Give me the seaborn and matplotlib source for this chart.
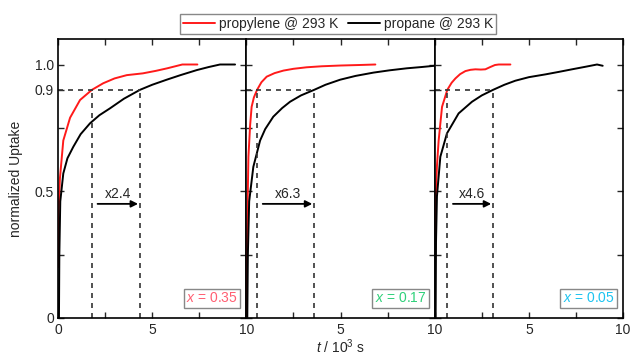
import numpy as np
import pandas as pd
import matplotlib
matplotlib.use("Agg")
import matplotlib.pyplot as plt
import seaborn as sns

# ---- uptake curves (t in 10^3 s, normalized uptake) ----
# x = 0.35
propylene_t_035 = [0.0, 0.02, 0.1, 0.28, 0.64, 1.17, 1.8, 2.4, 3.0, 3.65, 4.5, 5.2, 5.8, 6.6, 7.4]
propylene_u_035 = [0.20, 0.40, 0.55, 0.70, 0.79, 0.86, 0.90, 0.926, 0.945, 0.958, 0.965, 0.975, 0.985, 1.0, 1.0]
propane_t_035 = [0.05, 0.07, 0.12, 0.28, 0.5, 0.81, 1.2, 1.7, 2.2, 2.76, 3.5, 4.35, 5.0, 5.77, 6.5, 7.37, 8.0, 8.6, 9.4]
propane_u_035 = [0.0, 0.25, 0.46, 0.57, 0.63, 0.675, 0.725, 0.768, 0.80, 0.827, 0.865, 0.90, 0.92, 0.94, 0.958, 0.978, 0.99, 1.0, 1.0]

# x = 0.17
propylene_t_017 = [0.0, 0.03, 0.11, 0.2, 0.28, 0.4, 0.57, 0.8, 1.08, 1.5, 1.97, 2.5, 3.2, 4.0, 5.0, 6.0, 6.85]
propylene_u_017 = [0.0, 0.3, 0.636, 0.76, 0.833, 0.87, 0.90, 0.93, 0.952, 0.966, 0.976, 0.983, 0.989, 0.993, 0.996, 0.998, 1.0]
propane_t_017 = [0.05, 0.08, 0.15, 0.37, 0.73, 1.0, 1.43, 1.9, 2.32, 2.9, 3.6, 4.2, 4.98, 5.8, 6.75, 7.6, 8.52, 9.3, 10.0]
propane_u_017 = [0.0, 0.25, 0.46, 0.596, 0.70, 0.745, 0.794, 0.828, 0.853, 0.878, 0.90, 0.92, 0.94, 0.955, 0.968, 0.977, 0.985, 0.99, 0.995]

# x = 0.05
propylene_t_005 = [0.0, 0.04, 0.12, 0.21, 0.39, 0.67, 0.9, 1.1, 1.35, 1.63, 1.9, 2.16, 2.45, 2.69, 2.95, 3.2, 3.4, 4.02]
propylene_u_005 = [0.0, 0.45, 0.6, 0.70, 0.833, 0.90, 0.928, 0.945, 0.962, 0.974, 0.979, 0.981, 0.980, 0.981, 0.99, 0.998, 1.0, 1.0]
propane_t_005 = [0.05, 0.07, 0.12, 0.3, 0.65, 1.27, 1.98, 2.5, 3.1, 3.7, 4.28, 5.0, 5.88, 6.6, 7.29, 8.0, 8.62, 8.92]
propane_u_005 = [0.0, 0.3, 0.48, 0.636, 0.728, 0.807, 0.853, 0.878, 0.90, 0.92, 0.936, 0.95, 0.961, 0.971, 0.981, 0.991, 1.0, 0.995]

# time to reach 90 % uptake (10^3 s)
t90_propylene = [1.8, 0.57, 0.67]
t90_propane = [4.35, 3.6, 3.1]

compositions = [0.35, 0.17, 0.05]
composition_colors = ["#ff5f72", "#2fd07a", "#1cc3f0"]

series_names = ["propylene @ 293 K", "propane @ 293 K"]
series_colors = ["#ff1a1a", "#000000"]

y_ticks = [0, 0.25, 0.5, 0.75, 0.9, 1.0]
y_ticklabels = ["0", "", "0.5", "", "0.9", "1.0"]
x_ticks = [0, 2.5, 5, 7.5, 10]

panels = [
    (propylene_t_035, propylene_u_035, propane_t_035, propane_u_035),
    (propylene_t_017, propylene_u_017, propane_t_017, propane_u_017),
    (propylene_t_005, propylene_u_005, propane_t_005, propane_u_005),
]

sns.set_style("ticks")
plt.rcParams["font.family"] = ["Liberation Sans", "DejaVu Sans"]
plt.rcParams["mathtext.fontset"] = "custom"
plt.rcParams["mathtext.rm"] = "Liberation Sans"
plt.rcParams["mathtext.it"] = "Liberation Sans:italic"
plt.rcParams["font.size"] = 10

fig, axes = plt.subplots(1, 3, sharey=True, figsize=(6.32, 3.56), dpi=100)
fig.subplots_adjust(left=0.0918, right=0.9858, bottom=0.107, top=0.890, wspace=0)

palette = dict(zip(series_names, series_colors))

for i, ax in enumerate(axes):
    ty, uy, tp, up = panels[i]
    df = pd.concat([
        pd.DataFrame({"t": ty, "u": uy, "gas": series_names[0]}),
        pd.DataFrame({"t": tp, "u": up, "gas": series_names[1]}),
    ], ignore_index=True)
    sns.lineplot(data=df, x="t", y="u", hue="gas", palette=palette, sort=False,
                 estimator=None, units="gas", lw=1.4, ax=ax, legend=(i == 0))

    # 90 % guide lines
    dash = dict(color="#333333", lw=1.2, ls=(0, (3, 3)))
    ax.plot([0, t90_propane[i]], [0.9, 0.9], **dash)
    ax.plot([t90_propylene[i], t90_propylene[i]], [0, 0.9], **dash)
    ax.plot([t90_propane[i], t90_propane[i]], [0, 0.9], **dash)

    # ratio arrow
    a0 = t90_propylene[i] + 0.3
    a1 = t90_propane[i] - 0.1
    ax.annotate("", xy=(a1, 0.45), xytext=(a0, 0.45),
                arrowprops=dict(arrowstyle="-|>", color="black", lw=1.3,
                                mutation_scale=10, shrinkA=0, shrinkB=0))
    ratio = t90_propane[i] / t90_propylene[i]
    ax.text((a0 + a1) / 2, 0.49, f"x{ratio:.1f}", ha="center", va="center", fontsize=10)

    # composition box
    ax.text(0.955, 0.045, f"$x$ = {compositions[i]:.2f}", transform=ax.transAxes,
            ha="right", va="bottom", fontsize=10, color=composition_colors[i],
            bbox=dict(boxstyle="square,pad=0.18", fc="white", ec="#888888", lw=1.0))

    ax.set_xlim(0, 10)
    ax.set_ylim(0, 1.1)
    ax.set_xticks(x_ticks)
    if i == 0:
        ax.set_xticklabels(["0", "", "5", "", "10"])
    else:
        ax.set_xticklabels(["", "", "5", "", "10"])
    ax.set_yticks(y_ticks)
    ax.set_yticklabels(y_ticklabels)
    ax.tick_params(direction="in", top=True, right=True, length=4.5, width=1.0,
                   labelsize=10, pad=3)
    ax.tick_params(axis="x", pad=4)
    for s in ax.spines.values():
        s.set_linewidth(1.2)
        s.set_color("black")
    ax.set_xlabel("")
    ax.set_ylabel("")

handles, labels = axes[0].get_legend_handles_labels()
axes[0].get_legend().remove()
fig.legend(handles, labels, loc="center", bbox_to_anchor=(0.535, 0.933), ncol=2,
           frameon=True, fancybox=False, edgecolor="#888888", fontsize=10,
           handlelength=2.3, columnspacing=0.7, handletextpad=0.3,
           borderpad=0.2, borderaxespad=0, framealpha=1)

axes[0].set_ylabel("normalized Uptake", fontsize=10, labelpad=8)
axes[1].set_xlabel(r"$t$ / 10$^3$ s", fontsize=10, labelpad=0)

fig.savefig("out.png", dpi=100)
